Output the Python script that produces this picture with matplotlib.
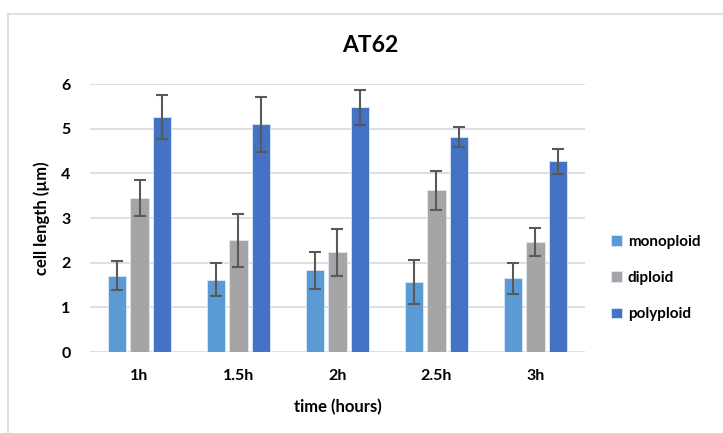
import numpy as np
import matplotlib.pyplot as plt
from matplotlib.lines import Line2D

plt.rcParams['font.family'] = ['Lato', 'DejaVu Sans']

times = ['1h', '1.5h', '2h', '2.5h', '3h']
mono = [1.71, 1.62, 1.83, 1.56, 1.65]
mono_err = [0.32, 0.37, 0.42, 0.49, 0.35]
diploid = [3.44, 2.50, 2.23, 3.62, 2.46]
diploid_err = [0.40, 0.60, 0.52, 0.44, 0.31]
poly = [5.26, 5.10, 5.48, 4.81, 4.27]
poly_err = [0.50, 0.62, 0.39, 0.23, 0.28]

series = [('monoploid', mono, mono_err, '#5B9BD5'),
          ('diploid', diploid, diploid_err, '#A5A5A5'),
          ('polyploid', poly, poly_err, '#4472C4')]

fig = plt.figure(figsize=(7.23, 4.33), dpi=100)
ax = fig.add_axes([0.1245, 0.187, 0.6845, 0.619])

x = np.arange(len(times))
w = 0.185
step = 0.225
for i, (name, vals, errs, col) in enumerate(series):
    ax.bar(x + (i - 1) * step, vals, w, color=col, edgecolor='#DDE8F5', linewidth=0.6,
           label=name, zorder=3,
           yerr=errs, error_kw=dict(ecolor='#595959', elinewidth=1.5, capsize=4, capthick=1.5, zorder=4))

ax.set_ylim(0, 6)
ax.set_xlim(-0.5, len(times) - 0.5)
ax.set_yticks(range(7))
ax.set_xticks(x)
ax.set_xticklabels(times)
ax.grid(axis='y', color='#D9D9D9', linewidth=1.2, zorder=0)
for s in ax.spines.values():
    s.set_visible(False)
ax.tick_params(axis='x', length=0, labelsize=11.5, pad=12)
ax.tick_params(axis='y', length=0, labelsize=11.5, pad=14)
for lab in ax.get_xticklabels() + ax.get_yticklabels():
    lab.set_fontweight('bold')

ax.set_xlabel('time (hours)', fontsize=12, fontweight='bold', labelpad=12)
ax.set_ylabel('cell length (µm)', fontsize=12, fontweight='bold', labelpad=8)
fig.text(0.512, 0.895, 'AT62', ha='center', va='center', fontsize=16.5, fontweight='bold')

leg = ax.legend(loc='center left', bbox_to_anchor=(1.025, 0.276), frameon=False,
                handlelength=0.7, handleheight=0.7, handletextpad=0.4,
                labelspacing=1.45, prop={'weight': 'bold', 'size': 11})

# outer chart border
fig.add_artist(Line2D([8 / 723, 8 / 723], [0, 1 - 14 / 433], color='#D9D9D9', lw=1.2))
fig.add_artist(Line2D([8 / 723, 1], [1 - 14 / 433, 1 - 14 / 433], color='#D9D9D9', lw=1.2))

fig.savefig('out.png', dpi=100)
